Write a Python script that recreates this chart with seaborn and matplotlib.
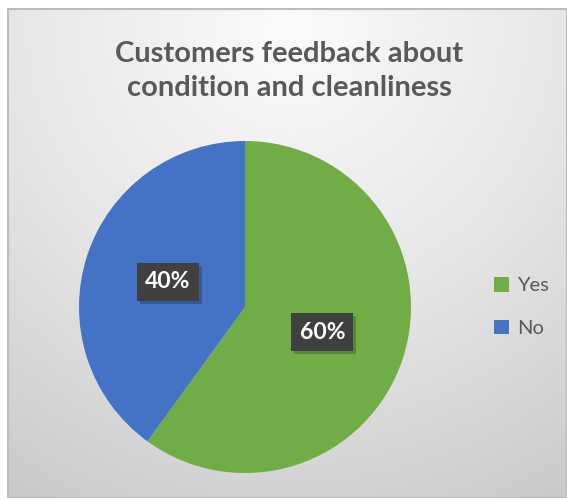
import numpy as np
import matplotlib
matplotlib.use("Agg")
import matplotlib.pyplot as plt
import seaborn as sns
from matplotlib.colors import LinearSegmentedColormap
from matplotlib.patches import Rectangle, Patch

# ---- data ----
categories = ["Yes", "No"]
values = [60, 40]
colors = ["#70AD47", "#4472C4"]
title = "Customers feedback about\ncondition and cleanliness"

sns.set_theme(style="white")
plt.rcParams["font.family"] = ["Lato", "DejaVu Sans"]

W, H = 567, 500
fig = plt.figure(figsize=(W / 100, H / 100), dpi=100)
fig.patch.set_facecolor("white")

# ---- background panel with radial gradient ----
fx0, fy0, fx1, fy1 = 7, 8, 567, 498  # pixel frame (top-left origin)
bg = fig.add_axes([fx0 / W, (H - fy1) / H, (fx1 - fx0) / W, (fy1 - fy0) / H], zorder=0)
bw, bh = fx1 - fx0, fy1 - fy0
yy, xx = np.mgrid[0:bh, 0:bw]
cx, cy = 283, 20
r = np.clip(np.sqrt((xx - cx) ** 2 + (yy - cy) ** 2) / 560.0, 0, 1)
cmap = LinearSegmentedColormap.from_list("bg", ["#fbfbfb", "#e6e6e6", "#c8c8c8"])
bg.imshow(r, cmap=cmap, aspect="auto", extent=[0, bw, bh, 0], vmin=0, vmax=1)
bg.add_patch(Rectangle((0.5, 0.5), bw - 1, bh - 1, fill=False, ec="#bcbcbc", lw=1.5))
bg.set_xlim(0, bw)
bg.set_ylim(bh, 0)
bg.axis("off")

# ---- pie ----
pcx, pcy, pr = 245, 307, 166
pos = [(pcx - pr) / W, (H - pcy - pr) / H, 2 * pr / W, 2 * pr / H]
ax = fig.add_axes(pos, zorder=1)
wedges, _ = ax.pie(values, colors=colors, startangle=90, counterclock=False,
                   radius=1.0, wedgeprops=dict(linewidth=0))
ax.set_xlim(-1, 1)
ax.set_ylim(-1, 1)
ax.axis("off")

# ---- data labels (on a top layer) ----
lab_ax = fig.add_axes(pos, zorder=3)
lab_ax.set_xlim(-1, 1)
lab_ax.set_ylim(-1, 1)
lab_ax.axis("off")
total = sum(values)
labels = []
for v, w in zip(values, wedges):
    ang = np.deg2rad((w.theta1 + w.theta2) / 2)
    x, y = 0.49 * np.cos(ang), 0.49 * np.sin(ang)
    t = lab_ax.text(x, y, f"{v / total * 100:.0f}%", ha="center", va="center",
                    fontsize=16.5, fontweight="bold", color="white",
                    bbox=dict(boxstyle="square,pad=0.36", fc="#404040", ec="none"))
    labels.append(t)

# ---- drop shadows between wedges and label boxes ----
fig.canvas.draw()
sh_ax = fig.add_axes([0, 0, 1, 1], zorder=2)
sh_ax.set_xlim(0, W)
sh_ax.set_ylim(0, H)
sh_ax.axis("off")
for t in labels:
    bb = t.get_bbox_patch().get_window_extent()
    sh_ax.add_patch(Rectangle((bb.x0 + 3, bb.y0 - 3), bb.width, bb.height,
                              fc=(0, 0, 0, 0.22), ec="none"))

# ---- title ----
fig.text(289 / W, 1 - 71 / H, title, ha="center", va="center", fontsize=21,
         fontweight="bold", color="#595959", linespacing=1.38)

# ---- legend ----
handles = [Patch(facecolor=c, edgecolor="none") for c in colors]
fig.legend(handles, categories, loc="center left",
           bbox_to_anchor=(476 / W, 1 - 307 / H), frameon=False,
           fontsize=14.5, labelcolor="#595959", handlelength=0.75,
           handleheight=0.75, handletextpad=0.4, labelspacing=1.25)

fig.savefig("out.png", dpi=100)
